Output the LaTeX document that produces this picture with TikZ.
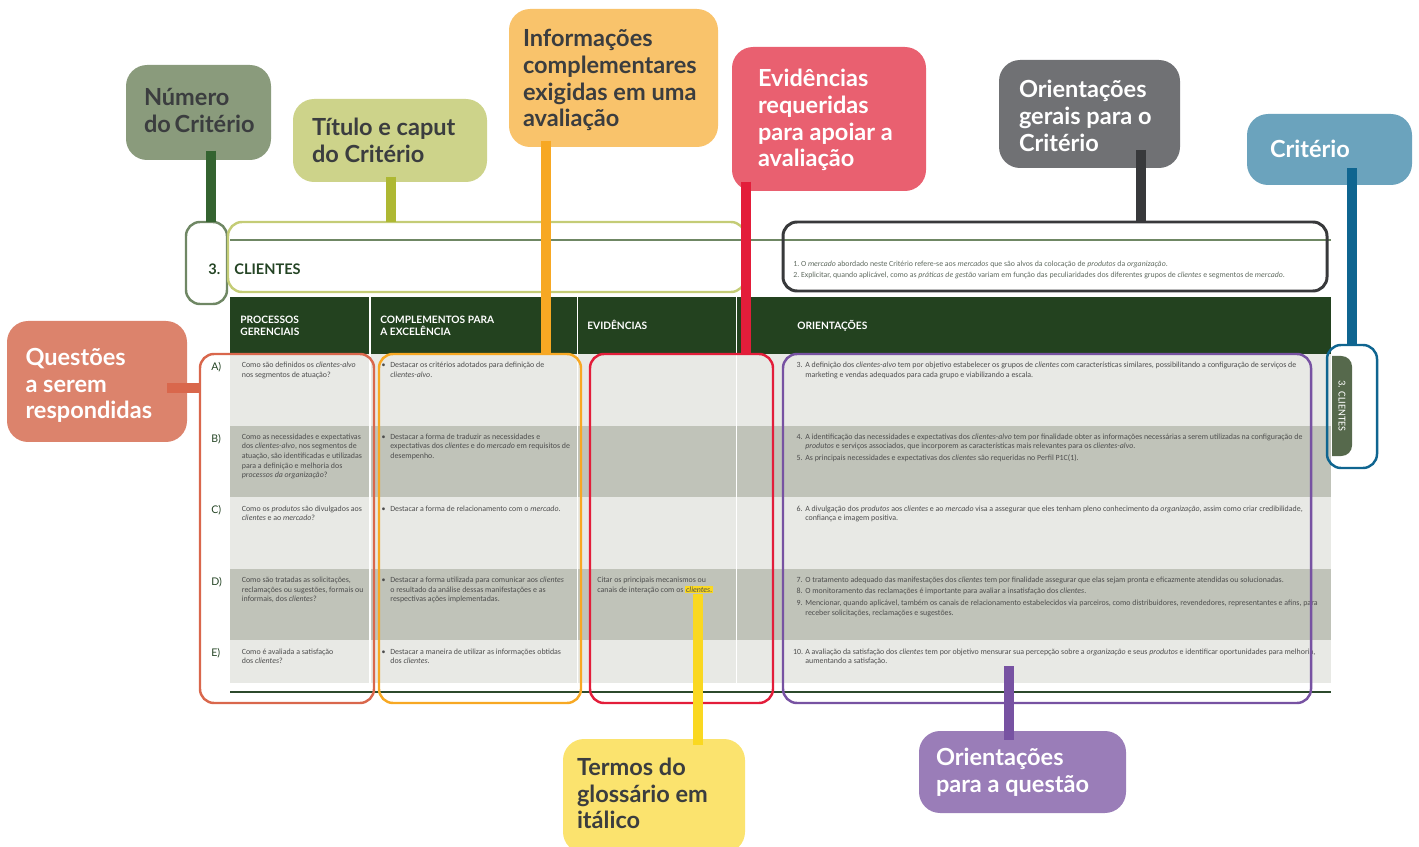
\documentclass[tikz,border=0pt]{standalone}
\usepackage{fontspec}
\setmainfont{Carlito}
\newfontfamily\callfont{Lato}
\usetikzlibrary{calc}
\definecolor{cNum}{HTML}{8A9B7C}
\definecolor{cTit}{HTML}{CDD38A}
\definecolor{cInf}{HTML}{F9C36B}
\definecolor{cEv}{HTML}{E96070}
\definecolor{cGer}{HTML}{707174}
\definecolor{cCr}{HTML}{6BA3BD}
\definecolor{cQ}{HTML}{DC836C}
\definecolor{cTer}{HTML}{FBE36E}
\definecolor{cOq}{HTML}{9A7DB8}
\definecolor{sNum}{HTML}{346330}
\definecolor{sTit}{HTML}{AEB833}
\definecolor{sOr}{HTML}{F7A823}
\definecolor{sRed}{HTML}{E31D3A}
\definecolor{sDark}{HTML}{38393B}
\definecolor{sBlue}{HTML}{0F6590}
\definecolor{sQ}{HTML}{D9674C}
\definecolor{sYel}{HTML}{FAD821}
\definecolor{sPur}{HTML}{7752A2}
\definecolor{fNum}{HTML}{6F8764}
\definecolor{fTit}{HTML}{C4CC76}
\definecolor{hdr}{HTML}{23421F}
\definecolor{rowL}{HTML}{E8E9E5}
\definecolor{rowD}{HTML}{C0C3B9}
\definecolor{tabG}{HTML}{56694C}
\definecolor{txtG}{HTML}{4D4D4D}
\definecolor{txtT}{HTML}{5F6A5F}
\definecolor{darkT}{HTML}{3B3D3F}
\definecolor{titG}{HTML}{244424}
\definecolor{botL}{HTML}{2C4A2C}
\definecolor{hlY}{HTML}{FAD821}
\def\pxl{0.02cm}
\newlength\pxlen
\setlength\pxlen{0.02cm}
\newcommand\onum[2][5pt]{\llap{\makebox[#1][l]{#2}}}
\newcommand\hlword[1]{{\setlength{\fboxsep}{0.5pt}\colorbox{hlY}{#1}}}
\newcommand\cbox[4]{\parbox[c][#1\pxlen][t]{#2\pxlen}{\rule{0pt}{#3\pxlen}#4}}
\begin{document}
\begin{tikzpicture}[x=0.02cm, y=-0.02cm,
  callout/.style={rectangle, rounded corners=12pt, inner sep=0pt, outer sep=0pt, anchor=north west,
    font=\callfont\bfseries\fontsize{13.4}{15.1}\selectfont},
  frm/.style={rectangle, rounded corners=8pt, line width=1.4pt, inner sep=0pt, outer sep=0pt, anchor=north west},
  stem/.style={line width=5.7pt},
  tx/.style={inner sep=0pt, anchor=base west, align=left, text=txtG, font=\fontsize{4.5}{5.45}\selectfont},
  nl/.style={yshift=-#1*5.45pt},
  hd/.style={inner sep=0pt, anchor=base west, align=left, text=white, font=\callfont\bfseries\fontsize{5.8}{6.8}\selectfont},
  letter/.style={inner sep=0pt, anchor=base west, text=titG, font=\callfont\fontsize{6}{7}\selectfont}]
\useasboundingbox (0,0) rectangle (1419,847);

% ---------- table ----------
\draw[fNum, line width=0.8pt] (230,240) -- (1331,240);
\node[inner sep=0pt, anchor=base west, text=titG, font=\callfont\bfseries\fontsize{8.3}{10}\selectfont] (num) at (208,274.5) {3.};
\node[inner sep=0pt, anchor=base west, text=titG, font=\callfont\bfseries\fontsize{8.3}{10}\selectfont] (tit) at (234,274.5) {CLIENTES};
\node[tx, text=txtT, font=\fontsize{4.45}{6.24}\selectfont, yshift=-6.24pt] (gen) at (793,266.5) {1.~O \textit{mercado} abordado neste Critério refere-se aos \textit{mercados} que são alvos da colocação de \textit{produtos} da \textit{organização}.\\
2.~Explicitar, quando aplicável, como as \textit{práticas de gestão} variam em função das peculiaridades dos diferentes grupos de \textit{clientes} e segmentos de \textit{mercado}.};

\fill[hdr] (230,297) rectangle (1331,354);
\fill[rowL] (230,354) rectangle (1331,426);
\fill[rowD] (230,426) rectangle (1331,497);
\fill[rowL] (230,497) rectangle (1331,569);
\fill[rowD] (230,569) rectangle (1331,640);
\fill[rowL] (230,640) rectangle (1331,683);
\foreach \cx in {370,577.5,736.5}{\draw[white, line width=0.6pt] (\cx,297) -- (\cx,683);}
\draw[botL, line width=0.9pt] (230,692) -- (1331,692);

\node[hd, yshift=-6.8pt] (h1) at (240,323.5) {PROCESSOS\\GERENCIAIS};
\node[hd, yshift=-6.8pt] (h2) at (380,323.5) {COMPLEMENTOS PARA\\A EXCELÊNCIA};
\node[hd] (h3) at (587,329.5) {EVIDÊNCIAS};
\node[hd] (h4) at (797,329.5) {ORIENTAÇÕES};

\node[letter] (la) at (211,371) {A)};
\node[letter] (lb) at (211,442) {B)};
\node[letter] (lc) at (211,513.5) {C)};
\node[letter] (ld) at (211,585) {D)};
\node[letter] (le) at (211,656.5) {E)};

\node[tx, nl=1] (qa) at (241.5,368) {Como são definidos os \textit{clientes-alvo}\\nos segmentos de atuação?};
\node[tx, nl=4] (qb) at (241.5,439.3) {Como as necessidades e expectativas\\dos \textit{clientes-alvo}, nos segmentos de\\atuação, são identificadas e utilizadas\\para a definição e melhoria dos\\\textit{processos da organização}?};
\node[tx, nl=1] (qc) at (241.5,511.3) {Como os \textit{produtos} são divulgados aos\\\textit{clientes} e ao \textit{mercado}?};
\node[tx, nl=2] (qd) at (241.5,582.7) {Como são tratadas as solicitações,\\reclamações ou sugestões, formais ou\\informais, dos \textit{clientes}?};
\node[tx, nl=1] (qe) at (241.5,654.3) {Como é avaliada a satisfação\\dos \textit{clientes}?};

\node[tx, nl=1] (ca) at (390,368) {\onum{•}Destacar os critérios adotados para definição de\\\textit{clientes-alvo}.};
\node[tx, nl=2] (cb) at (390,439.3) {\onum{•}Destacar a forma de traduzir as necessidades e\\expectativas dos \textit{clientes} e do \textit{mercado} em requisitos de\\desempenho.};
\node[tx] (cc) at (390,511.3) {\onum{•}Destacar a forma de relacionamento com o \textit{mercado}.};
\node[tx, nl=2] (cd) at (390,582.7) {\onum{•}Destacar a forma utilizada para comunicar aos \textit{clientes}\\o resultado da análise dessas manifestações e as\\respectivas ações implementadas.};
\node[tx, nl=1] (ce) at (390,654.3) {\onum{•}Destacar a maneira de utilizar as informações obtidas\\dos \textit{clientes}.};

\node[tx, nl=1] (ed) at (597,582.7) {Citar os principais mecanismos ou\\canais de interação com os \hlword{\textit{clientes.}}};

\node[tx, nl=1] (o3) at (805,368) {\onum{3.}A definição dos \textit{clientes-alvo} tem por objetivo estabelecer os grupos de \textit{clientes} com características similares, possibilitando a configuração de serviços de\\marketing e vendas adequados para cada grupo e viabilizando a escala.};
\node[tx, nl=1] (o4) at (805,439.3) {\onum{4.}A identificação das necessidades e expectativas dos \textit{clientes-alvo} tem por finalidade obter as informações necessárias a serem utilizadas na configuração de\\\textit{produtos} e serviços associados, que incorporem as características mais relevantes para os \textit{clientes-alvo}.};
\node[tx] (o5) at (805,460.7) {\onum{5.}As principais necessidades e expectativas dos \textit{clientes} são requeridas no Perfil P1C(1).};
\node[tx, nl=1] (o6) at (805,511.3) {\onum{6.}A divulgação dos \textit{produtos} aos \textit{clientes} e ao \textit{mercado} visa a assegurar que eles tenham pleno conhecimento da \textit{organização}, assim como criar credibilidade,\\confiança e imagem positiva.};
\node[tx] (o7) at (805,582.7) {\onum{7.}O tratamento adequado das manifestações dos \textit{clientes} tem por finalidade assegurar que elas sejam pronta e eficazmente atendidas ou solucionadas.};
\node[tx] (o8) at (805,593.8) {\onum{8.}O monitoramento das reclamações é importante para avaliar a insatisfação dos \textit{clientes}.};
\node[tx, nl=1] (o9) at (805,605.8) {\onum{9.}Mencionar, quando aplicável, também os canais de relacionamento estabelecidos via parceiros, como distribuidores, revendedores, representantes e afins, para\\receber solicitações, reclamações e sugestões.};
\node[tx, nl=1] (o10) at (805,654.3) {\onum[7pt]{10.}A avaliação da satisfação dos \textit{clientes} tem por objetivo mensurar sua percepção sobre a \textit{organização} e seus \textit{produtos} e identificar oportunidades para melhoria,\\aumentando a satisfação.};

% side tab
\fill[tabG] (1332,356) [rounded corners=6pt] -- (1352,356) -- (1352,456) [sharp corners] -- (1332,456) -- cycle;
\node[inner sep=0pt, rotate=-90, text=white, font=\fontsize{6}{7}\selectfont] (tab) at (1342,406) {3. CLIENTES};

% ---------- frames ----------
\node[frm, draw=fNum, minimum width=41*\pxl, minimum height=82*\pxl] (numframe) at (186,222) {};
\node[frm, draw=fTit, minimum width=517*\pxl, minimum height=70*\pxl] (titframe) at (228,222) {};
\node[frm, draw=sDark, line width=1.7pt, minimum width=544*\pxl, minimum height=69*\pxl] (gerframe) at (783,222) {};
\node[frm, draw=sBlue, minimum width=50*\pxl, minimum height=123*\pxl] (crframe) at (1327,345) {};
\node[frm, draw=sQ, minimum width=174*\pxl, minimum height=349*\pxl] (qframe) at (200,354) {};
\node[frm, draw=sOr, minimum width=202*\pxl, minimum height=349*\pxl] (compframe) at (379,354) {};
\node[frm, draw=sRed, minimum width=183*\pxl, minimum height=349*\pxl] (evframe) at (590,354) {};
\node[frm, draw=sPur, minimum width=528*\pxl, minimum height=349*\pxl] (orframe) at (783,354) {};

% ---------- callouts ----------
\node[callout, fill=cNum, text=darkT, minimum width=145*\pxl, minimum height=95*\pxl] (numcall) at (126,65) {\cbox{95}{109}{41}{Número\\do~Critério}};
\node[callout, fill=cTit, text=darkT, minimum width=194*\pxl, minimum height=83*\pxl] (titcall) at (293,99) {\cbox{83}{156}{36.5}{Título~e~caput\\do~Critério}};
\node[callout, fill=cInf, text=darkT, minimum width=209*\pxl, minimum height=138*\pxl] (infcall) at (509,9) {\cbox{138}{181}{38}{Informações\\complementares\\exigidas~em~uma\\avaliação}};
\node[callout, fill=cEv, text=white, minimum width=194*\pxl, minimum height=144*\pxl] (evcall) at (732,47) {\cbox{144}{142}{40}{Evidências\\requeridas\\para~apoiar~a\\avaliação}};
\node[callout, fill=cGer, text=white, minimum width=181*\pxl, minimum height=108*\pxl] (gercall) at (999,60) {\cbox{108}{141}{38}{Orientações\\gerais~para~o\\Critério}};
\node[callout, fill=cCr, text=white, minimum width=165*\pxl, minimum height=71*\pxl] (crcall) at (1247,114) {\cbox{71}{119}{44}{Critério}};
\node[callout, fill=cQ, text=white, minimum width=180*\pxl, minimum height=121*\pxl] (qcall) at (7,321) {\cbox{121}{143}{44.5}{Questões\\a~serem\\respondidas}};
\node[callout, fill=cTer, text=darkT, minimum width=182*\pxl, minimum height=114*\pxl] (tercall) at (563,739) {\cbox{114}{154}{36.5}{Termos~do\\glossário~em\\itálico}};
\node[callout, fill=cOq, text=white, minimum width=207*\pxl, minimum height=82*\pxl] (oqcall) at (919,731) {\cbox{82}{173}{34.5}{Orientações\\para~a~questão}};

% ---------- stems ----------
\coordinate (s1) at (210.7,150.7);
\coordinate (s2) at (390.7,176.7);
\coordinate (s3) at (545.5,140.7);
\coordinate (s4) at (745.7,181.7);
\coordinate (s5) at (1141,150);
\coordinate (s6) at (1352,168.3);
\coordinate (s7) at (167.3,387.7);
\coordinate (hl) at (698,594);
\coordinate (s9) at (1009,666);
\draw[stem, sNum] (s1) -- (s1 |- numframe.north);
\draw[stem, sTit] (s2) -- (s2 |- titframe.north);
\draw[stem, sOr] (s3) -- (s3 |- compframe.north);
\draw[stem, sRed] (s4) -- (s4 |- evframe.north);
\draw[stem, sDark] (s5) -- (s5 |- gerframe.north);
\draw[stem, sBlue] (s6) -- (s6 |- crframe.north);
\draw[stem, sQ] (s7) -- (s7 -| qframe.west);
\draw[stem, sYel] (hl) -- ($(hl |- tercall.north)+(0,6)$);
\draw[stem, sPur] (s9) -- ($(s9 |- oqcall.north)+(0,9)$);
\end{tikzpicture}
\end{document}
